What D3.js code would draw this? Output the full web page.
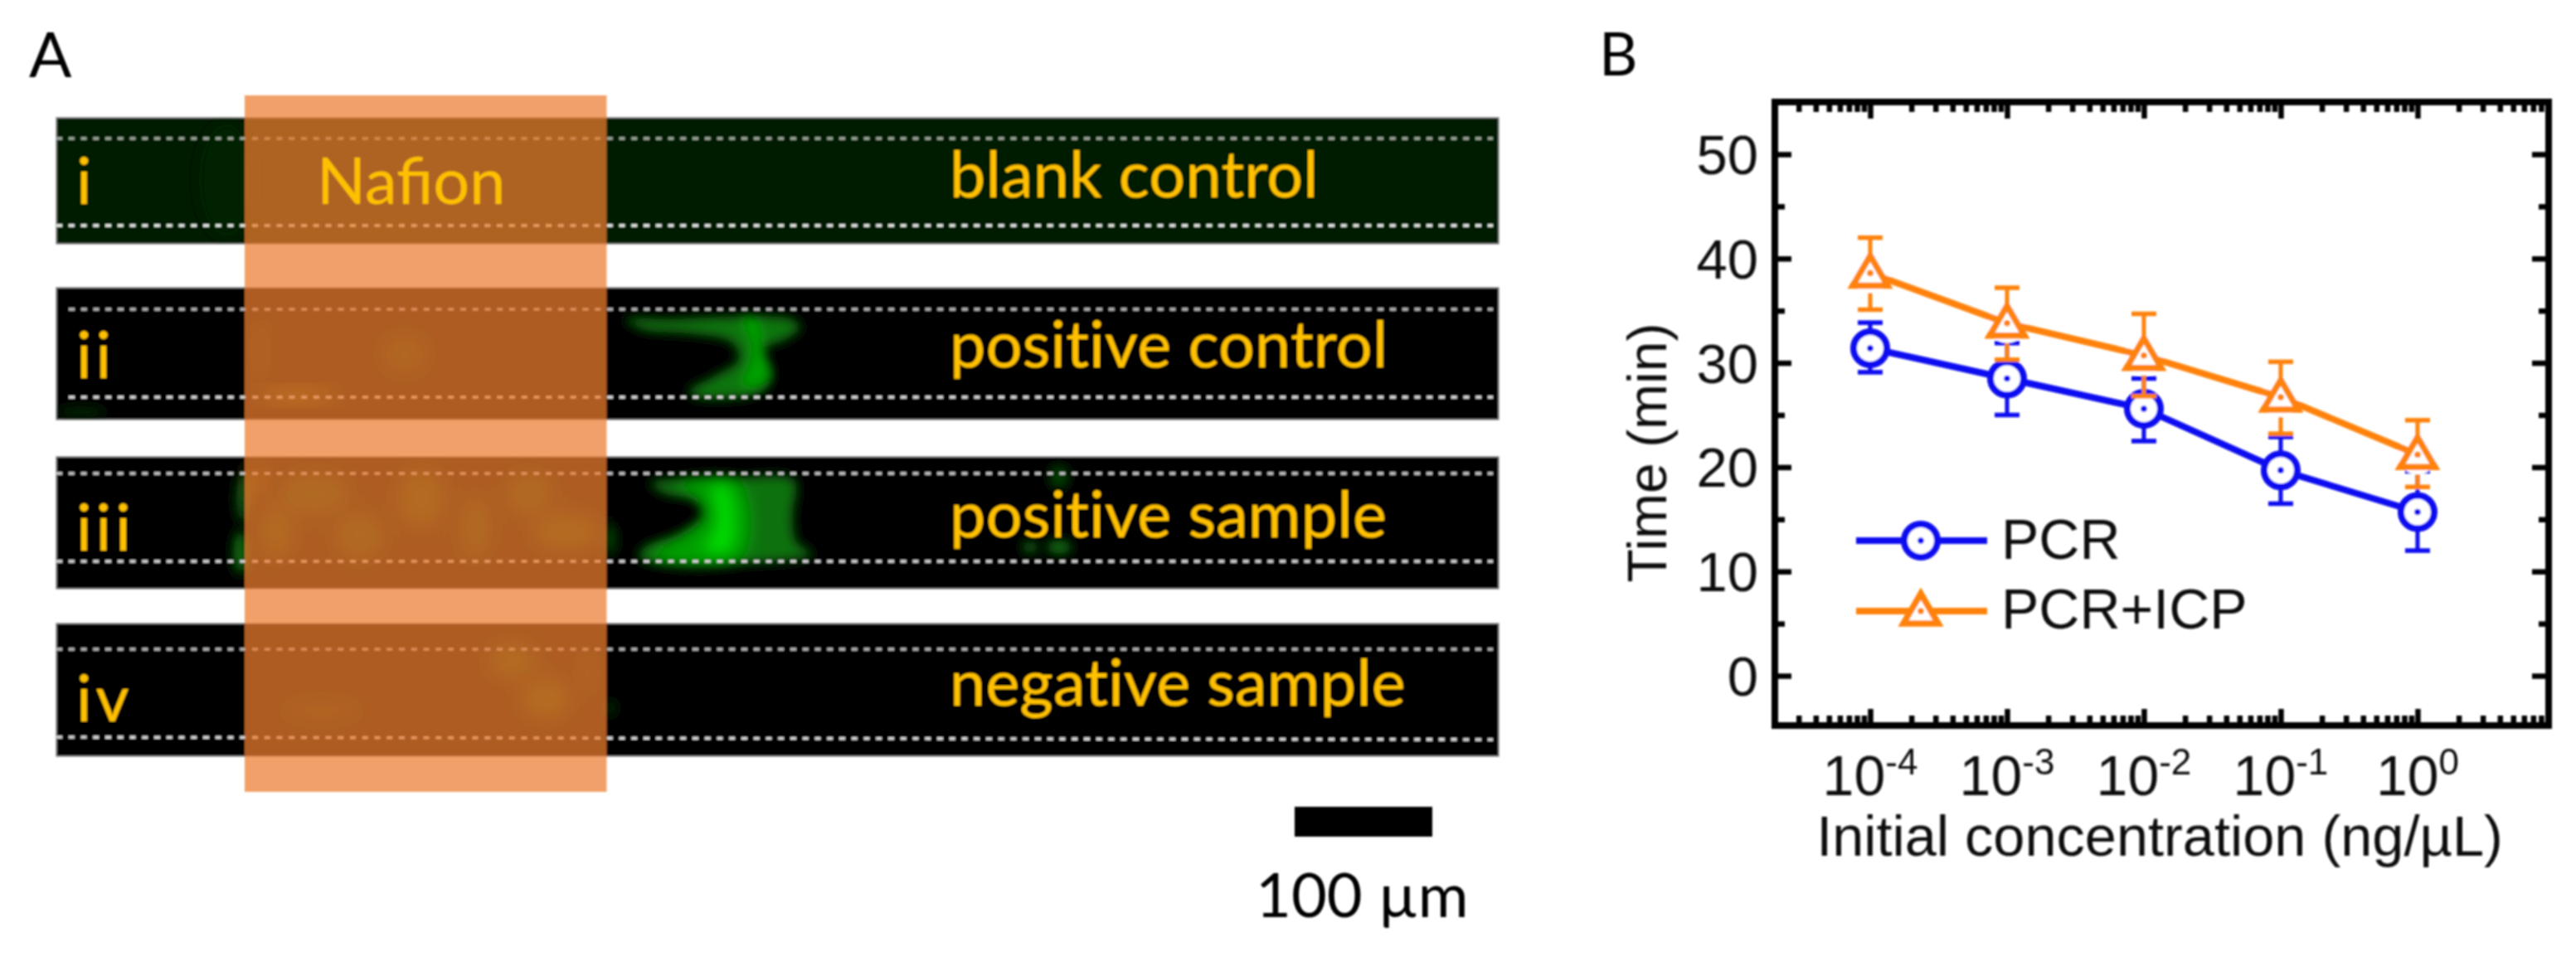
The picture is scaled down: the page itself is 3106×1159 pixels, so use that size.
<!DOCTYPE html>
<html><head><meta charset="utf-8">
<script src="https://cdn.jsdelivr.net/npm/d3@7/dist/d3.min.js"></script>
<style>html,body{margin:0;padding:0;background:#fff;overflow:hidden}svg{display:block}</style>
</head><body>
<script>
// ---------- Panel B data ----------
const concentrations = [1e-4, 1e-3, 1e-2, 1e-1, 1];
const tickExponents = ["-4", "-3", "-2", "-1", "0"];
const pcrTime = [31.4, 28.5, 25.6, 19.7, 15.7];
const pcrUpper = [33.85, 31.9, 28.5, 22.9, 19.6];
const pcrLower = [29.1, 25.0, 22.5, 16.5, 12.0];
const icpTime = [38.6, 33.8, 30.7, 26.7, 21.2];
const icpUpper = [42.0, 37.2, 34.7, 30.1, 24.5];
const icpLower = [35.1, 30.3, 26.8, 23.2, 18.1];
const yMajor = [0, 10, 20, 30, 40, 50];
const yMinor = [5, 15, 25, 35, 45];
const legendNames = ["PCR", "PCR+ICP"];

// ---------- Panel A content ----------
const stripLabels = ["i", "ii", "iii", "iv"];
const stripNames = ["blank control", "positive control", "positive sample", "negative sample"];
const stripFills = ["#021b01", "#000000", "#000000", "#000000"];
const stripTops = [142, 347, 551, 752];
const stripBottoms = [294, 506, 710, 912];
const dashTop = [[167, 167], [373, 373], [571, 571], [783, 783]];
const dashBottom = [[272, 272], [479, 479], [677, 677], [889, 892]];
const dashStart = [68, 83, 68, 68];
const dashColorTop = ["#9aa89a", "#b4b4b4", "#c4c4c4", "#b4b4b4"];
const dashColorBottom = ["#e6ece6", "#dcdcdc", "#d4d4d4", "#d4d4d4"];
const labelBaselines = [246, 456, 664, 870];
const nameBaselines = [238, 443, 648, 851];

// fluorescence, in image pixels from each strip's top-left corner
const blobS2 = [[686,38],[740,38],[811,35],[887,38],[897,48],[878,63],[852,75],[862,106],[850,126],[770,132],[762,125],[795,106],[823,86],[814,66],[760,55],[709,51]];
const coreS2 = [[826,38],[848,42],[850,73],[860,106],[846,118],[826,118],[838,86],[836,60]];
const blobS3 = [[716,31],[792,28],[890,28],[888,69],[892,102],[912,118],[702,122],[709,109],[753,92],[779,69],[769,52],[732,44]];
const midS3 = [[745,34],[824,32],[828,118],[715,120],[760,95],[788,70],[775,48]];
const coreS3 = [[792,36],[808,36],[812,112],[782,112],[796,86],[796,62]];
// [strip, x, y, rx, ry, colour]
const spots = [
  [0,205,75,35,70,"#022402"],
  [1,30,150,30,6,"#032a03"],
  [2,1174,109,10,7,"#0a6a0a"],[2,1209,109,15,8,"#0a7a0a"],[2,1209,24,12,14,"#064206"],
  [2,225,50,8,30,"#0a5a0a"],[2,222,115,8,26,"#0a7a0a"],[2,668,100,8,20,"#063e06"],
  [3,668,102,7,10,"#052c05"]
];
// faint patches seen through the Nafion overlay
const patches = [
  [1,246,75,6,40,"#1e3a00"],[1,290,130,50,7,"#5a6a00"],[1,420,80,30,25,"#0e2c00"],
  [2,240,30,10,20,"#4a5000"],[2,310,45,45,28,"#103400"],[2,440,50,30,38,"#143800"],[2,265,90,22,35,"#143800"],
  [2,365,95,32,30,"#103400"],[2,505,85,20,40,"#103400"],[2,570,45,30,28,"#103400"],[2,615,90,42,22,"#1c4000"],
  [3,550,45,30,22,"#143c00"],[3,320,105,50,12,"#0e2c00"],[3,590,90,30,25,"#1e4000"],[3,640,60,8,25,"#143c00"]
];

// ---------- Page ----------
const W = 3106, H = 1159;
const svg = d3.select("body").append("svg").attr("width", W).attr("height", H).attr("viewBox", `0 0 ${W} ${H}`);
const defs = svg.append("defs");
const addBlur = (id, s) => defs.append("filter").attr("id", id)
  .attr("x", "-60%").attr("y", "-60%").attr("width", "220%").attr("height", "220%")
  .append("feGaussianBlur").attr("stdDeviation", s);
addBlur("soft", 1.0); addBlur("blob", 7); addBlur("blob2", 9); addBlur("patch", 13);

const sansA = "Lato, 'Open Sans', sans-serif";
const sansB = "'Liberation Sans', Arial, sans-serif";
const gold = "#FFC000";

// ---------- Panel A ----------
const A = svg.append("g").attr("filter", "url(#soft)");
const imgX = d3.scaleLinear().domain([0, 1739]).range([68, 1807]);
const closed = d3.line().x(d => imgX(d[0])).curve(d3.curveCatmullRomClosed);

stripTops.forEach((top, i) => {
  A.append("rect").attr("x", imgX(0)).attr("y", top).attr("width", imgX(1739) - imgX(0))
    .attr("height", stripBottoms[i] - top).attr("fill", stripFills[i])
    .attr("stroke", "#8d8d8d").attr("stroke-width", 1.5);
});
stripTops.forEach((top, i) => {
  defs.append("clipPath").attr("id", "strip" + i).append("rect")
    .attr("x", imgX(0)).attr("y", top).attr("width", imgX(1739) - imgX(0)).attr("height", stripBottoms[i] - top);
});
const layer = i => A.append("g").attr("clip-path", `url(#strip${i})`);
const drawBlob = (pts, stripIndex, color, filt, op) => {
  const top = stripTops[stripIndex];
  layer(stripIndex).append("path")
    .attr("d", closed.y(d => top + d[1])(pts))
    .attr("fill", color).attr("opacity", op).attr("filter", `url(#${filt})`);
};
drawBlob(blobS2, 1, "#0a8a0e", "blob", 0.85);
drawBlob(coreS2, 1, "#00ac00", "blob", 0.8);
drawBlob(blobS3, 2, "#0a780c", "blob", 0.95);
drawBlob(midS3, 2, "#00a800", "blob2", 0.9);
drawBlob(coreS3, 2, "#00e800", "blob2", 0.85);
spots.forEach(s => {
  layer(s[0]).append("ellipse").attr("cx", imgX(s[1])).attr("cy", stripTops[s[0]] + s[2])
    .attr("rx", s[3]).attr("ry", s[4]).attr("fill", s[5]).attr("filter", "url(#blob)");
});
patches.forEach(s => {
  layer(s[0]).append("ellipse").attr("cx", imgX(s[1])).attr("cy", stripTops[s[0]] + s[2])
    .attr("rx", s[3]).attr("ry", s[4]).attr("fill", s[5]).attr("filter", "url(#patch)");
});
const walls = [[dashTop, dashColorTop], [dashBottom, dashColorBottom]];
walls.forEach(([ys, cols]) => ys.forEach((y, i) => {
  A.append("line").attr("x1", dashStart[i]).attr("x2", imgX(1732)).attr("y1", y[0]).attr("y2", y[1])
    .attr("stroke", cols[i]).attr("stroke-width", 3.6).attr("stroke-dasharray", "7 7.75");
}));
A.append("rect").attr("x", 295).attr("y", 115).attr("width", 436.5).attr("height", 840)
  .attr("fill", "#ED7D31").attr("opacity", 0.735);

const goldText = (s, x, y) => A.append("text").attr("x", x).attr("y", y).text(s)
  .attr("font-family", sansA).attr("font-size", 77.5).attr("fill", gold);
goldText("Nafion", 382, 246);
stripLabels.forEach((s, i) => goldText(s, 92, labelBaselines[i]).attr("letter-spacing", 5));
stripNames.forEach((s, i) => goldText(s, 1145, nameBaselines[i]).attr("letter-spacing", 0.2));

A.append("text").text("A").attr("x", 35).attr("y", 93).attr("font-family", sansA).attr("font-size", 76).attr("fill", "#000");
A.append("rect").attr("x", 1561).attr("y", 973).attr("width", 166).attr("height", 36).attr("fill", "#000");
A.append("text").text("100 µm").attr("x", 1514).attr("y", 1106).attr("font-family", sansA).attr("font-size", 74).attr("fill", "#000");

// ---------- Panel B ----------
const B = svg.append("g").attr("filter", "url(#soft)");
B.append("text").text("B").attr("x", 1928).attr("y", 91).attr("font-family", sansA).attr("font-size", 72).attr("fill", "#000");

const box = {l: 2140, r: 3073, t: 123, b: 875};
const x = d3.scaleLog().domain([Math.pow(10, -4.697), Math.pow(10, 0.958)]).range([box.l, box.r]);
const y = d3.scaleLinear().domain([(815 - box.b) / 12.58, (815 - box.t) / 12.58]).range([box.b, box.t]);

const decades = d3.range(-5, 1);
const logMinor = decades.flatMap(e => d3.range(2, 10).map(m => m * Math.pow(10, e)))
  .filter(v => v > x.domain()[0] && v < x.domain()[1]);
const axisColor = "#050505";
function styleAxis(g) {
  g.select(".domain").remove();
  g.selectAll("text").remove();
  g.selectAll("line").attr("stroke", axisColor).attr("stroke-width", 6.5);
}
const major = 20, minor = 12;
[
  [d3.axisBottom(x).tickValues(concentrations).tickSize(-major), 0, box.b],
  [d3.axisBottom(x).tickValues(logMinor).tickSize(-minor), 0, box.b],
  [d3.axisTop(x).tickValues(concentrations).tickSize(-major), 0, box.t],
  [d3.axisTop(x).tickValues(logMinor).tickSize(-minor), 0, box.t],
  [d3.axisLeft(y).tickValues(yMajor).tickSize(-major), box.l, 0],
  [d3.axisLeft(y).tickValues(yMinor).tickSize(-minor), box.l, 0],
  [d3.axisRight(y).tickValues(yMajor).tickSize(-major), box.r, 0],
  [d3.axisRight(y).tickValues(yMinor).tickSize(-minor), box.r, 0]
].forEach(([ax, tx, ty]) => B.append("g").attr("transform", `translate(${tx},${ty})`).call(ax).call(styleAxis));
B.append("rect").attr("x", box.l).attr("y", box.t).attr("width", box.r - box.l).attr("height", box.b - box.t)
  .attr("fill", "none").attr("stroke", axisColor).attr("stroke-width", 8);

yMajor.forEach(v => B.append("text").text(v).attr("x", 2120).attr("y", y(v) + 24)
  .attr("text-anchor", "end").attr("font-family", sansB).attr("font-size", 67).attr("fill", "#111"));
concentrations.forEach((c, i) => {
  const t = B.append("text").attr("x", x(c)).attr("y", 959).attr("text-anchor", "middle")
    .attr("font-family", sansB).attr("font-size", 68).attr("fill", "#111");
  t.append("tspan").text("10");
  t.append("tspan").text(tickExponents[i]).attr("dy", -25).attr("font-size", 44);
});
B.append("text").text("Initial concentration (ng/µL)").attr("x", 2604).attr("y", 1032).attr("text-anchor", "middle")
  .attr("font-family", sansB).attr("font-size", 68.5).attr("fill", "#111");
B.append("text").text("Time (min)").attr("transform", "translate(2009,546) rotate(-90)").attr("text-anchor", "middle")
  .attr("font-family", sansB).attr("font-size", 66).attr("fill", "#111");

function circleMark(g, cx, cy, col) {
  g.append("circle").attr("cx", cx).attr("cy", cy).attr("r", 20)
    .attr("fill", "#fff").attr("stroke", col).attr("stroke-width", 8);
  g.append("circle").attr("cx", cx).attr("cy", cy).attr("r", 3.8).attr("fill", col);
}
function triMark(g, cx, cy, col) {
  const tri = d3.line()([[cx, cy - 21], [cx + 21, cy + 15], [cx - 21, cy + 15]]) + "Z";
  g.append("path").attr("d", tri).attr("fill", "#fff").attr("stroke", col).attr("stroke-width", 7.5)
    .attr("stroke-linejoin", "miter");
  g.append("circle").attr("cx", cx).attr("cy", cy).attr("r", 3.8).attr("fill", col);
}
const line = d3.line().x(d => x(d[0])).y(d => y(d[1]));
function drawSeries(vals, up, lo, col, mark, halo) {
  const g = B.append("g");
  concentrations.forEach((c, i) => {
    const px = x(c);
    g.append("line").attr("x1", px).attr("x2", px).attr("y1", y(up[i])).attr("y2", y(lo[i]))
      .attr("stroke", col).attr("stroke-width", 5);
    [up[i], lo[i]].forEach(v => g.append("line").attr("x1", px - 15).attr("x2", px + 15)
      .attr("y1", y(v)).attr("y2", y(v)).attr("stroke", col).attr("stroke-width", 5.5));
    if (halo) g.append("circle").attr("cx", px).attr("cy", y(vals[i])).attr("r", halo).attr("fill", "#fff");
  });
  g.append("path").attr("d", line(concentrations.map((c, i) => [c, vals[i]])))
    .attr("fill", "none").attr("stroke", col).attr("stroke-width", 8);
  concentrations.forEach((c, i) => mark(g, x(c), y(vals[i]), col));
}
const blue = "#0808f0", orange = "#FF8207";
drawSeries(pcrTime, pcrUpper, pcrLower, blue, circleMark, 0);
drawSeries(icpTime, icpUpper, icpLower, orange, triMark, 24);

const legendRows = [[652, blue, circleMark, 674], [737, orange, triMark, 758]];
legendRows.forEach(([ly, col, mark, base], i) => {
  B.append("line").attr("x1", 2238).attr("x2", 2396).attr("y1", ly).attr("y2", ly).attr("stroke", col).attr("stroke-width", 8);
  mark(B, 2316, ly, col);
  B.append("text").text(legendNames[i]).attr("x", 2413).attr("y", base)
    .attr("font-family", sansB).attr("font-size", 68).attr("fill", "#111");
});
</script>
</body></html>
